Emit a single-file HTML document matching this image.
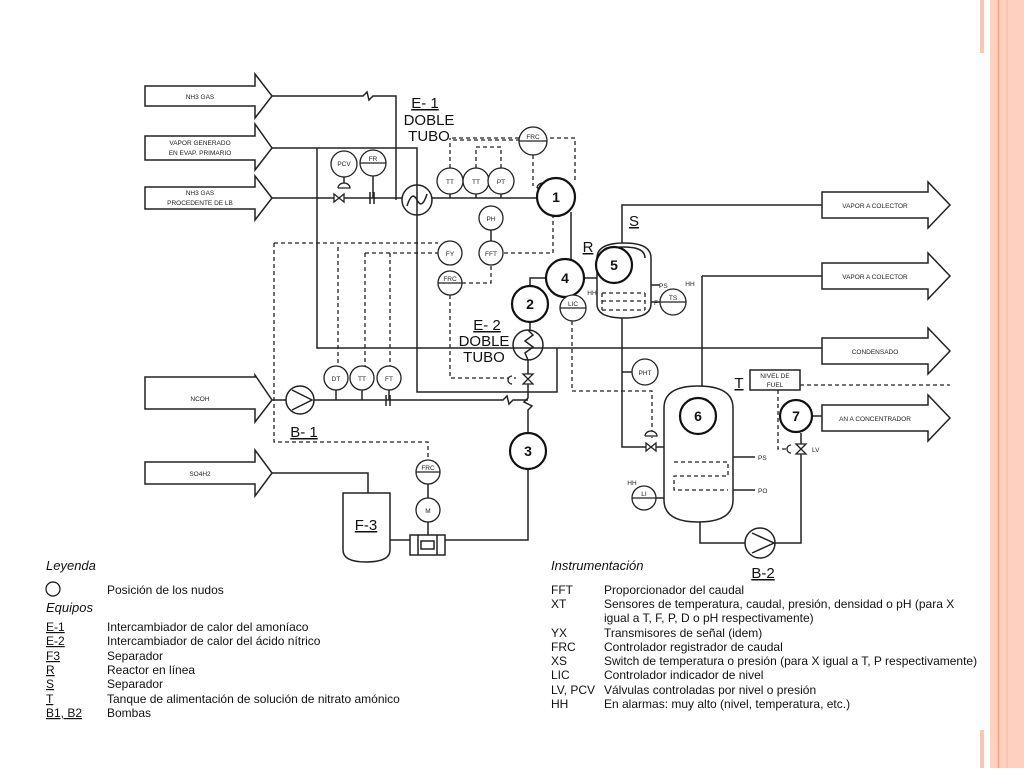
<!DOCTYPE html>
<html><head><meta charset="utf-8"><style>
body{margin:0;background:#fff;width:1024px;height:768px;overflow:hidden;font-family:"Liberation Sans",sans-serif}
</style></head><body>
<svg width="1024" height="768" viewBox="0 0 1024 768" xmlns="http://www.w3.org/2000/svg" font-family="Liberation Sans, sans-serif">
<rect x="990" y="0" width="34" height="768" fill="#fdd0c0"/>
<line x1="998.5" y1="0" x2="998.5" y2="768" stroke="#f0a080" stroke-width="1.5"/>
<line x1="1007" y1="0" x2="1007" y2="768" stroke="#fbb9a0" stroke-width="1"/>
<rect x="980" y="0" width="4" height="53" fill="#f9c6b4"/>
<rect x="980" y="730" width="4" height="38" fill="#f9c6b4"/>

<g fill="none" stroke="#222" stroke-width="1.5">
<path d="M145,86 H255 V74 L272,96 L255,118 V106 H145 Z"/>
<path d="M145,136 H255 V124 L272,148 L255,170 V160 H145 Z"/>
<path d="M145,187 H255 V176 L272,198 L255,220 V209 H145 Z"/>
<path d="M145,377 H255 V375 L272,400 L255,422 V409 H145 Z"/>
<path d="M145,462 H255 V450 L272,473 L255,496 V484 H145 Z"/>
<path d="M822,192 H928 V182 L950,205 L928,228 V218 H822 Z"/>
<path d="M822,263 H928 V253 L950,276 L928,299 V289 H822 Z"/>
<path d="M822,338 H928 V328 L950,351 L928,374 V364 H822 Z"/>
<path d="M822,405 H928 V395 L950,418 L928,441 V431 H822 Z"/>

<path d="M272,96 H363 l4,-4 l2,8 l4,-4 H396 V200"/>
<path d="M272,148 H417 V392 H557 V348"/>
<path d="M317,148 V348 H822"/>
<path d="M272,198 H402"/>
<path d="M432,198 H536"/>
<path d="M571,212 V259"/>
<path d="M546,278 H530 V286"/>
<path d="M530,322 V330 M528,360 V398 l-4,4 l8,4 l-4,4 V433"/>
<path d="M272,400 H286 M314,400 H503 l4,-4 l2,8 l4,-4 H528"/>
<path d="M528,469 V540 H445"/>
<path d="M272,473 H368 V493"/>
<path d="M390,540 H410"/>
<path d="M584,278 H597"/>
<path d="M622,243 V205 H822"/>
<path d="M622,318 V447 H648 M656,447 H664"/>
<path d="M622,372 H632"/>
<path d="M702,276 H822 M702,276 V386"/>
<path d="M700,522 V543 H745 M775,543 H801 V433"/>
<path d="M812,416 H822"/>
<path d="M651,302 H660"/>
<path d="M651,285 H660 M733,457 H755 M733,490 H755"/>
<path d="M656,498 H664"/>
<path d="M336,390 V400 M362,390 V400 M389,390 V400 M450,194 V198 M476,194 V198 M501,194 V198 M491,230 V241 M428,484 V498 M428,522 V535 M373,176 V198 M344,177 V188"/>
<path d="M370,192 V204 M374,192 V204 M386,395 V406 M390,395 V406"/>
<path d="M343,493 H390 V550 Q390,562 366,562 Q343,562 343,550 Z"/>
<rect x="410" y="535" width="35" height="20"/>
<path d="M418,535 V555 M437,535 V555 M421,541 H434 V549 H421 Z"/>
<path d="M597,258 Q597,243 624,243 Q651,243 651,258 V304 Q651,318 624,318 Q597,318 597,304 Z"/>
<path d="M603,258 Q603,247 624,247 Q645,247 645,258"/>
<path d="M664,408 Q664,386 698,386 Q733,386 733,408 V500 Q733,522 698,522 Q664,522 664,500 Z"/>
<rect x="750" y="370" width="50" height="20"/>
<circle cx="300" cy="400" r="14"/><path d="M292,390 L312,400 L292,410"/>
<circle cx="760" cy="543" r="15"/><path d="M752,533 L774,543 L752,553"/>
<circle cx="417" cy="200" r="15"/><path d="M407,206 Q412,190 417,200 Q422,210 427,194"/>
<circle cx="528" cy="345" r="15"/><path d="M528,330 l5,5 l-8,6 l8,6 l-8,6 l3,7"/>
</g>

<g fill="none" stroke="#222" stroke-width="1.3" stroke-dasharray="4,3">
<path d="M452,138 H575 V180"/>
<path d="M533,155 V186"/>
<path d="M450,168 V138 M476,168 V147 H501 V168 M520,140 H452"/>
<path d="M504,253 H553 V215"/>
<path d="M274,243 H438"/>
<path d="M274,243 V442 H428 V460"/>
<path d="M338,247 V366 M365,253 V366 M390,253 V366 M365,253 H438"/>
<path d="M450,295 V378 H516"/>
<path d="M462,283 H491 V265"/>
<path d="M572,321 V391 H652 V438"/>
<path d="M800,385 H950"/>
<path d="M778,390 V449 H790"/>
<path d="M602,293 H645 M602,301 H645 M602,310 H645 M602,293 V310 M645,293 V310"/>
<path d="M674,462 H728 V476 H674 V490 H728"/>
</g>

<g fill="#fff" stroke="#222" stroke-width="1.3">
<path d="M334,194 L344,202 L344,194 L334,202 Z"/><path d="M338,188 h12 a6,5 0 0 0 -12,0"/>
<path d="M538,193 L548,201 L548,193 L538,201 Z"/><path d="M537,188 h12 a6,5 0 0 0 -12,0"/>
<path d="M523,374 L533,384 L523,384 L533,374 Z"/><path d="M512,376 a4,4 0 0 0 0,8"/>
<path d="M646,443 L656,451 L656,443 L646,451 Z"/><path d="M645,436 h12 a6,5 0 0 0 -12,0"/>
<path d="M796,444 L806,454 L796,454 L806,444 Z"/><path d="M791,445 a4,4 0 0 0 0,8"/>
</g>

<g fill="#fff" stroke="#111" stroke-width="2.2">
<circle cx="556" cy="197" r="19"/>
<circle cx="565" cy="278" r="19"/>
<circle cx="530" cy="304" r="18"/>
<circle cx="528" cy="451" r="18"/>
<circle cx="614" cy="265" r="18"/>
<circle cx="698" cy="416" r="18"/>
<circle cx="796" cy="416" r="16"/>
</g>
<g font-size="14" font-weight="bold" text-anchor="middle" fill="#111">
<text x="556" y="202">1</text><text x="565" y="283">4</text><text x="530" y="309">2</text>
<text x="528" y="456">3</text><text x="614" y="270">5</text><text x="698" y="421">6</text><text x="796" y="421">7</text>
</g>

<g fill="#fff" stroke="#222" stroke-width="1.3">
<circle cx="344" cy="164" r="13"/><circle cx="373" cy="163" r="13"/><path d="M360,163 H386"/>
<circle cx="533" cy="141" r="14"/><path d="M519,141 H547"/>
<circle cx="450" cy="181" r="13"/><circle cx="476" cy="181" r="13"/><circle cx="501" cy="181" r="13"/>
<circle cx="491" cy="218" r="12"/><circle cx="450" cy="253" r="12"/><circle cx="491" cy="253" r="12"/>
<circle cx="450" cy="283" r="12"/><path d="M438,283 H462"/>
<circle cx="573" cy="308" r="13"/><path d="M560,308 H586"/>
<circle cx="673" cy="302" r="13"/><path d="M660,302 H686"/>
<circle cx="645" cy="372" r="13"/>
<circle cx="644" cy="498" r="12"/><path d="M632,498 H656"/>
<circle cx="336" cy="378" r="12"/><circle cx="362" cy="378" r="12"/><circle cx="389" cy="378" r="12"/>
<circle cx="428" cy="472" r="12"/><path d="M416,472 H440"/>
<circle cx="428" cy="510" r="12"/>
</g>
<g font-size="6.5" text-anchor="middle" fill="#222">
<text x="344" y="166">PCV</text><text x="373" y="161">FR</text><text x="533" y="139">FRC</text>
<text x="450" y="184">TT</text><text x="476" y="184">TT</text><text x="501" y="184">PT</text>
<text x="491" y="221">PH</text><text x="450" y="256">FY</text><text x="491" y="256">FFT</text>
<text x="450" y="281">FRC</text><text x="573" y="306">LIC</text><text x="673" y="300">TS</text>
<text x="645" y="375">PHT</text><text x="644" y="496">LI</text>
<text x="336" y="381">DT</text><text x="362" y="381">TT</text><text x="389" y="381">FT</text>
<text x="428" y="470">FRC</text><text x="428" y="513">M</text>
<text x="200" y="99">NH3 GAS</text>
<text x="200" y="145">VAPOR GENERADO</text><text x="200" y="155">EN EVAP. PRIMARIO</text>
<text x="200" y="195">NH3 GAS</text><text x="200" y="205">PROCEDENTE DE LB</text>
<text x="200" y="401">NCOH</text><text x="200" y="476">SO4H2</text>
<text x="875" y="208">VAPOR A COLECTOR</text><text x="875" y="279">VAPOR A COLECTOR</text>
<text x="875" y="354">CONDENSADO</text><text x="875" y="421">AN A CONCENTRADOR</text>
<text x="775" y="378">NIVEL DE</text><text x="775" y="387">FUEL</text>
<text x="659" y="288" text-anchor="start">PS</text><text x="654" y="305" text-anchor="start">F</text>
<text x="592" y="295">HH</text><text x="690" y="286">HH</text>
<text x="758" y="460" text-anchor="start">PS</text><text x="758" y="493" text-anchor="start">PO</text>
<text x="632" y="485">HH</text><text x="812" y="452" text-anchor="start">LV</text>
</g>
<g font-size="15" fill="#111" text-anchor="middle">
<text x="425" y="108" text-decoration="underline">E- 1</text><text x="429" y="125">DOBLE</text><text x="429" y="141">TUBO</text>
<text x="487" y="330" text-decoration="underline">E- 2</text><text x="484" y="346">DOBLE</text><text x="484" y="362">TUBO</text>
<text x="304" y="437" text-decoration="underline">B- 1</text>
<text x="366" y="530" text-decoration="underline">F-3</text>
<text x="588" y="252" text-decoration="underline">R</text>
<text x="634" y="226" text-decoration="underline">S</text>
<text x="739" y="388" text-decoration="underline">T</text>
<text x="763" y="578" text-decoration="underline">B-2</text>
</g>

<g font-size="12" fill="#111">
<text x="46" y="570" font-style="italic" font-size="13">Leyenda</text>
<circle cx="53" cy="589" r="7" fill="none" stroke="#111" stroke-width="1.2"/>
<text x="107" y="594">Posición de los nudos</text>
<text x="46" y="612" font-style="italic" font-size="13">Equipos</text>
<text x="46" y="631" text-decoration="underline">E-1</text><text x="107" y="631">Intercambiador de calor del amoníaco</text>
<text x="46" y="645" text-decoration="underline">E-2</text><text x="107" y="645">Intercambiador de calor del ácido nítrico</text>
<text x="46" y="660" text-decoration="underline">F3</text><text x="107" y="660">Separador</text>
<text x="46" y="674" text-decoration="underline">R</text><text x="107" y="674">Reactor en línea</text>
<text x="46" y="688" text-decoration="underline">S</text><text x="107" y="688">Separador</text>
<text x="46" y="703" text-decoration="underline">T</text><text x="107" y="703">Tanque de alimentación de solución de nitrato amónico</text>
<text x="46" y="717" text-decoration="underline">B1, B2</text><text x="107" y="717">Bombas</text>

<text x="551" y="570" font-style="italic" font-size="13">Instrumentación</text>
<text x="551" y="594">FFT</text><text x="604" y="594">Proporcionador del caudal</text>
<text x="551" y="608">XT</text><text x="604" y="608">Sensores de temperatura, caudal, presión, densidad o pH (para X</text>
<text x="604" y="622">igual a T, F, P, D o pH respectivamente)</text>
<text x="551" y="637">YX</text><text x="604" y="637">Transmisores de señal (idem)</text>
<text x="551" y="651">FRC</text><text x="604" y="651">Controlador registrador de caudal</text>
<text x="551" y="665">XS</text><text x="604" y="665">Switch de temperatura o presión (para X igual a T, P respectivamente)</text>
<text x="551" y="679">LIC</text><text x="604" y="679">Controlador indicador de nivel</text>
<text x="551" y="694">LV, PCV</text><text x="604" y="694">Válvulas controladas por nivel o presión</text>
<text x="551" y="708">HH</text><text x="604" y="708">En alarmas: muy alto (nivel, temperatura, etc.)</text>
</g>
</svg>
</body></html>
